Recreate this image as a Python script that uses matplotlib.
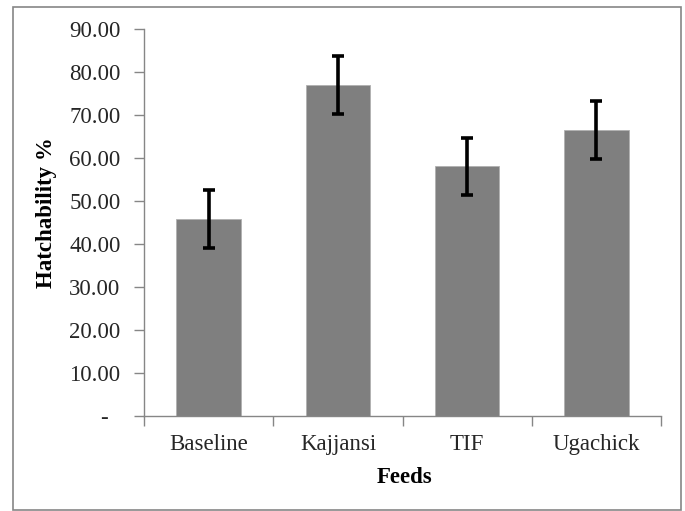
import matplotlib
matplotlib.use("Agg")
import matplotlib.pyplot as plt
from matplotlib.patches import Rectangle
import numpy as np

categories = ["Baseline", "Kajjansi", "TIF", "Ugachick"]
hatchability = [45.8, 77.0, 58.1, 66.6]
errors = [6.7, 6.8, 6.6, 6.7]
yticks = [0, 10, 20, 30, 40, 50, 60, 70, 80, 90]

plt.rcParams['font.family'] = ['Liberation Serif', 'DejaVu Serif']

fig = plt.figure(figsize=(6.85, 5.11), dpi=100)
ax = fig.add_axes([144/685, 1-416/511, 517/685, (416-29.3)/511])

x = np.arange(len(categories))
ax.bar(x, hatchability, width=0.5, color='#7f7f7f', edgecolor='#b0b0b0', linewidth=0.6, zorder=2)
ax.errorbar(x, hatchability, yerr=errors, fmt='none', ecolor='black',
            elinewidth=2.6, capsize=4.5, capthick=2.6, zorder=3)

ax.set_xlim(-0.5, len(categories) - 0.5)
ax.set_ylim(0, 90)

gray = '#868686'
for s in ['top', 'right']:
    ax.spines[s].set_visible(False)
for s in ['left', 'bottom']:
    ax.spines[s].set_color(gray)
    ax.spines[s].set_linewidth(1.0)

fs = 16.5
ax.set_yticks(yticks)
ax.set_yticklabels(['-  ' if v == 0 else f"{v:.2f}" for v in yticks])
ax.tick_params(axis='y', length=7, width=1, color=gray, pad=10, labelsize=fs, labelcolor='#262626')

ax.set_xticks(np.arange(-0.5, len(categories), 1.0))
ax.set_xticklabels([])
ax.set_xticks(x, minor=True)
ax.set_xticklabels(categories, minor=True)
ax.tick_params(axis='x', which='major', length=7, width=1, color=gray)
ax.tick_params(axis='x', which='minor', length=0, pad=13, labelsize=fs, labelcolor='#262626')

ax.set_ylabel("Hatchability %", fontsize=fs, fontweight='bold')
ax.yaxis.set_label_coords(-0.168, 0.527)
ax.set_xlabel("Feeds", fontsize=fs, fontweight='bold')
ax.xaxis.set_label_coords(0.503, -0.133)

fig.patches.append(Rectangle((13/685, 1/511), 668/685, 503/511, transform=fig.transFigure,
                             fill=False, edgecolor=gray, linewidth=1.2))

fig.savefig("out.png", dpi=100)
